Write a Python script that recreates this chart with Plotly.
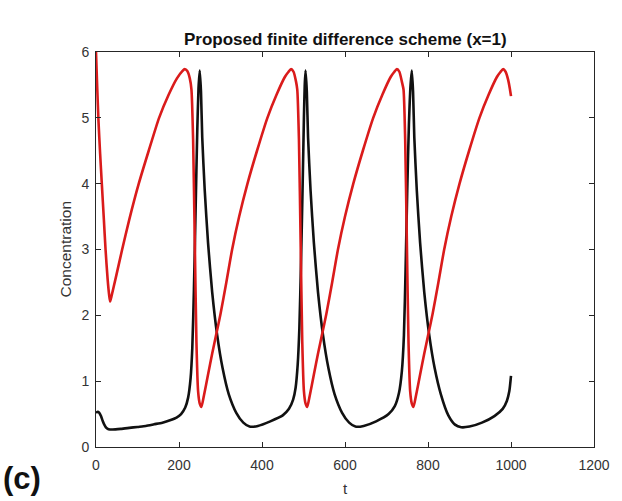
import plotly.graph_objects as go

# ---- data ----
t_red = [0, 3, 6, 10, 14, 19, 23, 28, 32, 34, 37, 48, 63, 80, 103, 127, 152, 175, 195,
         208, 214, 220, 226, 230, 234, 238, 242, 246, 250, 254,
         260, 270, 280, 290, 300, 314, 328, 345, 365, 388, 413, 435, 455, 464, 470, 476, 482,
         485, 489, 493, 497, 501, 505, 509,
         515, 525, 535, 545, 555, 569, 583, 600, 620, 643, 668, 690, 710, 719, 725, 731, 737,
         741, 745, 749, 753, 757, 761, 765,
         771, 781, 791, 801, 811, 825, 839, 856, 876, 899, 924, 946, 966, 975, 981, 987, 993,
         997, 1000]
red = [6.00, 5.45, 4.95, 4.45, 4.00, 3.45, 3.00, 2.55, 2.29, 2.21, 2.28, 2.58, 3.00,
       3.45, 4.00, 4.50, 5.00, 5.35, 5.60,
       5.71, 5.74, 5.71, 5.60, 5.43, 4.67, 3.14, 1.60, 0.85, 0.66, 0.61,
       0.78, 1.10, 1.42, 1.72, 2.02, 2.50, 3.00, 3.50, 4.00, 4.50, 5.00, 5.35, 5.62, 5.70,
       5.74, 5.70, 5.55,
       5.43, 4.67, 3.14, 1.60, 0.85, 0.66, 0.61,
       0.78, 1.10, 1.42, 1.72, 2.02, 2.50, 3.00, 3.50, 4.00, 4.50, 5.00, 5.35, 5.62, 5.70,
       5.74, 5.70, 5.55,
       5.43, 4.67, 3.14, 1.60, 0.85, 0.66, 0.61,
       0.78, 1.10, 1.42, 1.72, 2.02, 2.50, 3.00, 3.50, 4.00, 4.50, 5.00, 5.35, 5.62, 5.70,
       5.74, 5.70, 5.58,
       5.45, 5.33]

t_black = [0, 4, 8, 12, 16, 20, 25, 30, 40, 60, 80, 100, 120, 140, 160, 180, 195, 205, 215,
           222, 228, 232, 236, 240, 244, 247, 250, 253, 256, 262, 270, 280, 292, 305, 320,
           338, 355, 370, 390, 420, 450, 465, 475, 481, 486, 490, 494, 498, 501, 503, 505,
           508, 511, 517, 525, 535, 547, 560, 575, 593, 610, 625, 645, 675, 705, 720, 730,
           737, 742, 746, 750, 754, 758, 761, 764, 767, 773, 781, 791, 803, 816, 831, 849,
           865, 880, 900, 930, 960, 980, 990, 996, 1000]
black = [0.52, 0.535, 0.52, 0.47, 0.40, 0.34, 0.29, 0.27, 0.265, 0.275, 0.29, 0.305, 0.32,
         0.345, 0.37, 0.41, 0.45, 0.50, 0.60,
         0.75, 1.05, 1.50, 2.40, 3.60, 4.80, 5.45, 5.72, 5.40, 4.70, 3.90, 3.10, 2.35, 1.70,
         1.20, 0.80,
         0.52, 0.37, 0.31, 0.32, 0.39, 0.48, 0.58, 0.72, 0.90, 1.25, 1.80, 2.80, 4.00, 5.00,
         5.50, 5.72,
         5.40, 4.70, 3.90, 3.10, 2.35, 1.70, 1.20, 0.80, 0.52, 0.37, 0.31, 0.32, 0.39, 0.50,
         0.62, 0.82,
         1.15, 1.70, 2.70, 3.90, 4.90, 5.50, 5.72, 5.40, 4.70, 3.90, 3.10, 2.35, 1.70, 1.20,
         0.80, 0.48,
         0.34, 0.30, 0.31, 0.37, 0.47, 0.58, 0.70, 0.85, 1.08]

x_ticks = [0, 200, 400, 600, 800, 1000, 1200]
y_ticks = [0, 1, 2, 3, 4, 5, 6]

title_text = "Proposed finite difference scheme (x=1)"
x_label = "t"
y_label = "Concentration"
panel_label = "(c)"

FONT = "Liberation Sans, Arial, Helvetica, sans-serif"
AX = "#262626"

fig = go.Figure()
fig.add_trace(go.Scatter(x=t_black, y=black, mode="lines",
                         line=dict(color="#111111", width=2.6, shape="spline", smoothing=0.6),
                         showlegend=False, hoverinfo="skip"))
fig.add_trace(go.Scatter(x=t_red, y=red, mode="lines",
                         line=dict(color="#DA1B1B", width=2.6, shape="spline", smoothing=0.6),
                         showlegend=False, hoverinfo="skip"))

axis_common = dict(showline=True, linecolor=AX, linewidth=1, mirror="ticks",
                   ticks="inside", ticklen=5, tickwidth=1, tickcolor=AX,
                   showgrid=False, zeroline=False,
                   tickfont=dict(family=FONT, size=14, color="#333333"))

fig.update_layout(
    width=622, height=501,
    margin=dict(l=96, r=25, t=52, b=54),
    paper_bgcolor="white", plot_bgcolor="white",
    xaxis=dict(range=[0, 1200], tickvals=x_ticks, ticktext=[str(v) for v in x_ticks],
               ticklabelstandoff=5, **axis_common),
    yaxis=dict(range=[0, 6], tickvals=y_ticks, ticktext=[str(v) for v in y_ticks],
               ticklabelstandoff=3, **axis_common),
    annotations=[
        dict(text="<b>" + title_text + "</b>", xref="paper", yref="paper", x=0.5, y=1.0,
             xanchor="center", yanchor="bottom", yshift=1, showarrow=False,
             font=dict(family=FONT, size=17, color="#111111")),
        dict(text=x_label, xref="paper", yref="paper", x=0.5, y=0, xanchor="center",
             yanchor="middle", yshift=-41, showarrow=False,
             font=dict(family=FONT, size=15, color="#333333")),
        dict(text=y_label, xref="paper", yref="paper", x=0, y=0.5, xanchor="center",
             yanchor="middle", xshift=-31, textangle=-90, showarrow=False,
             font=dict(family=FONT, size=15.5, color="#333333")),
        dict(text="<b>" + panel_label + "</b>", xref="paper", yref="paper", x=0, y=0,
             xanchor="center", yanchor="middle", xshift=-74, yshift=-31, showarrow=False,
             font=dict(family=FONT, size=31, color="#111111")),
    ],
)

# remove the default 8px page margin so the 622x501 figure fills the window exactly
fig.write_html("out.html", post_script="document.body.style.margin='0';",
               config={"displayModeBar": False})
